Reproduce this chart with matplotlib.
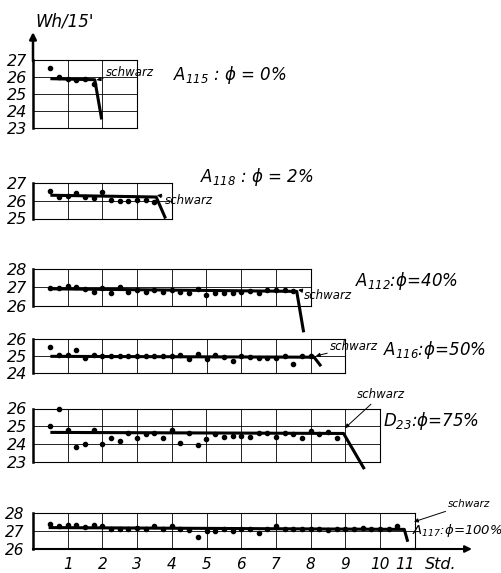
import matplotlib.pyplot as plt

plt.rcParams['font.family'] = 'DejaVu Sans'
plt.rcParams['font.style'] = 'italic'
plt.rcParams['mathtext.fontset'] = 'dejavusans'
plt.rcParams['mathtext.default'] = 'it'

# --- data (hours, Wh per 15 min) ---
h115 = [0.5, 0.75, 1.0, 1.25, 1.5, 1.75]
v115 = [26.5, 26.0, 25.85, 25.8, 25.85, 25.55]
mean115_h = [0.5, 1.78, 1.98]
mean115_v = [25.88, 25.82, 23.5]

h118 = [0.5, 0.75, 1.0, 1.25, 1.5, 1.75, 2.0, 2.25, 2.5, 2.75, 3.0, 3.25, 3.5]
v118 = [26.55, 26.2, 26.25, 26.4, 26.2, 26.15, 26.5, 26.05, 26.0, 26.0, 26.05, 26.05, 25.9]
mean118_h = [0.5, 3.55, 3.82]
mean118_v = [26.3, 26.2, 25.0]

h112 = [0.5, 0.75, 1.0, 1.25, 1.5, 1.75, 2.0, 2.25, 2.5, 2.75, 3.0, 3.25, 3.5, 3.75, 4.0,
        4.25, 4.5, 4.75, 5.0, 5.25, 5.5, 5.75, 6.0, 6.25, 6.5, 6.75, 7.0, 7.25, 7.5]
v112 = [26.95, 26.98, 27.05, 27.0, 26.9, 26.72, 26.95, 26.67, 27.0, 26.73, 26.85, 26.75,
        26.85, 26.72, 26.85, 26.72, 26.67, 26.93, 26.56, 26.68, 26.7, 26.7, 26.73, 26.78,
        26.7, 26.87, 26.85, 26.85, 26.82]
mean112_h = [0.5, 7.6, 7.8]
mean112_v = [26.92, 26.78, 24.55]

h116 = [0.5, 0.75, 1.0, 1.25, 1.5, 1.75, 2.0, 2.25, 2.5, 2.75, 3.0, 3.25, 3.5, 3.75, 4.0,
        4.25, 4.5, 4.75, 5.0, 5.25, 5.5, 5.75, 6.0, 6.25, 6.5, 6.75, 7.0, 7.25, 7.5, 7.75, 8.0]
v116 = [25.52, 25.05, 25.05, 25.38, 24.88, 25.05, 25.0, 25.0, 25.0, 25.0, 25.0, 25.02,
        25.0, 25.0, 25.0, 25.03, 24.8, 25.1, 24.8, 25.05, 24.97, 24.7, 25.0, 24.97, 24.87,
        24.87, 24.87, 25.0, 24.55, 25.0, 25.0]
mean116_h = [0.5, 8.1, 8.3]
mean116_v = [24.98, 24.93, 24.4]

hD23 = [0.5, 0.75, 1.0, 1.25, 1.5, 1.75, 2.0, 2.25, 2.5, 2.75, 3.0, 3.25, 3.5, 3.75, 4.0,
        4.25, 4.5, 4.75, 5.0, 5.25, 5.5, 5.75, 6.0, 6.25, 6.5, 6.75, 7.0, 7.25, 7.5, 7.75,
        8.0, 8.25, 8.5, 8.75]
vD23 = [25.03, 26.0, 24.79, 23.85, 24.0, 24.79, 23.99, 24.36, 24.17, 24.64, 24.32, 24.55,
        24.64, 24.36, 24.79, 24.08, 24.6, 23.95, 24.27, 24.55, 24.42, 24.45, 24.45, 24.42,
        24.64, 24.6, 24.42, 24.6, 24.58, 24.36, 24.74, 24.58, 24.7, 24.36]
meanD23_h = [0.5, 8.95, 9.55]
meanD23_v = [24.66, 24.6, 22.6]

h117 = [0.5, 0.75, 1.0, 1.25, 1.5, 1.75, 2.0, 2.25, 2.5, 2.75, 3.0, 3.25, 3.5, 3.75, 4.0,
        4.25, 4.5, 4.75, 5.0, 5.25, 5.5, 5.75, 6.0, 6.25, 6.5, 6.75, 7.0, 7.25, 7.5, 7.75,
        8.0, 8.25, 8.5, 8.75, 9.0, 9.25, 9.5, 9.75, 10.0, 10.25, 10.5]
v117 = [27.4, 27.27, 27.34, 27.3, 27.21, 27.3, 27.27, 27.08, 27.08, 27.12, 27.16, 27.08,
        27.27, 27.08, 27.27, 27.08, 27.05, 26.66, 26.97, 26.97, 27.08, 26.97, 27.12, 27.08,
        26.9, 27.1, 27.27, 27.08, 27.1, 27.08, 27.08, 27.12, 27.03, 27.12, 27.08, 27.1,
        27.16, 27.08, 27.1, 27.08, 27.27]
mean117_h = [0.45, 10.7, 10.8]
mean117_v = [27.18, 27.08, 26.4]

hour_labels = ['', '1', '2', '3', '4', '5', '6', '7', '8', '9', '10', '']
last_label, last_label_pos = '11', 10.72

W, H = 502, 573
X0, PX_H = 33, 34.7
fig = plt.figure(figsize=(5.02, 5.73), dpi=100)


def panel(hmax, ylo, yhi, top, bot):
    ax = fig.add_axes([X0 / W, 1 - bot / H, hmax * PX_H / W, (bot - top) / H])
    ax.set_xlim(0, hmax)
    ax.set_ylim(ylo, yhi)
    ax.set_xticks(range(hmax + 1))
    ax.set_xticklabels([])
    ax.set_yticks(range(ylo, yhi + 1))
    ax.tick_params(length=0, labelsize=11.5, pad=4)
    ax.grid(True, color='black', lw=0.6)
    ax.set_axisbelow(True)
    for s in ax.spines.values():
        s.set_linewidth(0.8)
    ax.spines['left'].set_linewidth(1.8)
    return ax


def series(ax, h, v, mh, mv):
    ax.plot(h, v, 'o', ms=3, color='black', clip_on=False)
    ax.plot(mh, mv, '-', lw=2.2, color='black', clip_on=False, solid_capstyle='butt')


def schwarz(ax, txt_xy, tip_xy, size=8.5):
    ax.annotate('schwarz', xy=tip_xy, xytext=txt_xy, fontsize=size, va='center', ha='left',
                annotation_clip=False,
                arrowprops=dict(arrowstyle='-|>', lw=0.7, color='black', mutation_scale=6,
                                shrinkA=0, shrinkB=0))


def label(ax, x, y, name, sub, phi, size=12):
    ax.text(x, y, f'${name}_{{{sub}}}$:ϕ={phi}%', fontsize=size, va='center', ha='left')


ax1 = panel(3, 23, 27, 59.5, 128)
series(ax1, h115, v115, mean115_h, mean115_v)
ax1.annotate('', xy=(0, 28.6), xytext=(0, 26.9), annotation_clip=False,
             arrowprops=dict(arrowstyle='-|>', lw=1.8, color='black', mutation_scale=10,
                             shrinkA=0, shrinkB=0))
fig.text(35 / W, 1 - 22 / H, "Wh/15'", fontsize=12, va='center', ha='left')
schwarz(ax1, (2.1, 26.25), (1.83, 25.8))
ax1.text(4.03, 26.1, '$A_{115}$ : ϕ = 0%', fontsize=12, va='center', ha='left')

ax2 = panel(4, 25, 27, 182.7, 218.5)
series(ax2, h118, v118, mean118_h, mean118_v)
schwarz(ax2, (3.8, 26.03), (3.57, 26.3))
ax2.text(4.8, 27.3, '$A_{118}$ : ϕ = 2%', fontsize=12, va='center', ha='left')

ax3 = panel(8, 26, 28, 269, 305.7)
series(ax3, h112, v112, mean112_h, mean112_v)
schwarz(ax3, (7.8, 26.58), (7.64, 26.86))
label(ax3, 9.28, 27.35, 'A', '112', '40')

ax4 = panel(9, 24, 26, 339, 373)
series(ax4, h116, v116, mean116_h, mean116_v)
schwarz(ax4, (8.56, 25.55), (8.15, 25.0))
label(ax4, 10.09, 25.35, 'A', '116', '50')

ax5 = panel(10, 23, 26, 408.5, 462)
series(ax5, hD23, vD23, meanD23_h, meanD23_v)
schwarz(ax5, (9.34, 26.76), (8.99, 24.9))
label(ax5, 10.09, 25.3, 'D', '23', '75')

ax6 = panel(11, 26, 28, 512.7, 549)
series(ax6, h117, v117, mean117_h, mean117_v)
ax6.spines['bottom'].set_linewidth(1.5)
ax6.annotate('', xy=(12.65, 26), xytext=(10.9, 26), annotation_clip=False,
             arrowprops=dict(arrowstyle='-|>', lw=1.5, color='black', mutation_scale=10,
                             shrinkA=0, shrinkB=0))
ax6.set_xticks(range(12), hour_labels)
ax6.set_xticks([last_label_pos], [last_label], minor=True)
ax6.tick_params(which='both', length=0, labelsize=11, pad=6)
ax6.text(11.75, -0.44, 'Std.', fontsize=11.5, va='center', ha='center',
         transform=ax6.get_xaxis_transform())
schwarz(ax6, (11.96, 28.5), (10.98, 27.5), size=7.5)
label(ax6, 10.93, 27.0, 'A', '117', '100', size=9.5)

fig.savefig('out.png', dpi=100)
